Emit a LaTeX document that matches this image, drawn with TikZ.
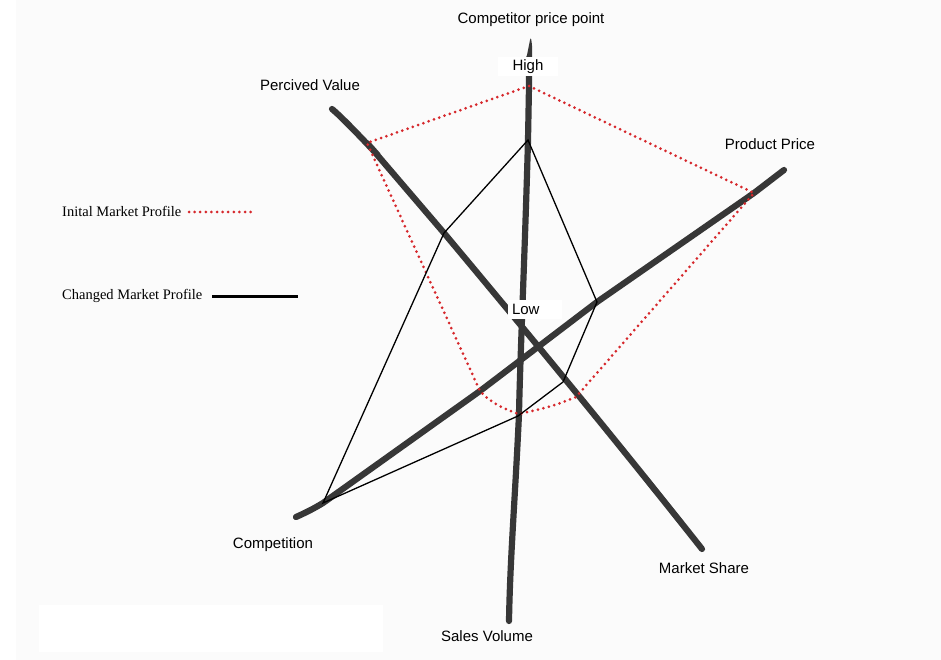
\documentclass[tikz,border=0pt]{standalone}
\usepackage{fontspec}
\setmainfont{Liberation Sans}
\newfontfamily\legendfont{Liberation Serif}
\definecolor{axisgray}{RGB}{55,55,55}
\definecolor{profilered}{RGB}{214,40,44}
\definecolor{paper}{RGB}{251,251,251}
\begin{document}
\begin{tikzpicture}[x=1pt,y=-1pt,
  axisline/.style={draw=axisgray, line width=6.2pt, line cap=round, line join=round},
  initial/.style={draw=profilered, line width=3pt, line cap=round,
    dash pattern=on 0pt off 5.6pt},
  changed/.style={draw=black, line width=1.3pt, line join=miter},
  axislabel/.style={font=\fontsize{15}{18}\selectfont, inner sep=1pt},
  levellabel/.style={font=\fontsize{15}{18}\selectfont, fill=white, inner sep=1pt,
    minimum height=19pt},
  legendlabel/.style={font=\legendfont\fontsize{14.5}{17}\selectfont, anchor=west, inner sep=0pt}
]
% page and backgrounds
\useasboundingbox (0,0) rectangle (941,660);
\fill[white] (0,0) rectangle (941,660);
\fill[paper] (16,0) rectangle (941,660);
\fill[white] (39,605) rectangle (383,652);

% axis end points and profile vertices
\coordinate (pvTop) at (332,109);
\coordinate (pvEnd) at (702,549);
\coordinate (coEnd) at (296,517);
\coordinate (ppEnd) at (784,170);
\coordinate (svTop) at (530,40);
\coordinate (svEnd) at (509,621);

\coordinate (iCP) at (529,86);
\coordinate (iPV) at (367,143);
\coordinate (iPP) at (754,193);
\coordinate (iMS) at (576,397);
\coordinate (iSV) at (519,414);
\coordinate (iCO) at (480,391);

\coordinate (cCP) at (528,140);
\coordinate (cPV) at (444,233);
\coordinate (cCO) at (323,503);
\coordinate (cSV) at (518,416);
\coordinate (cMS) at (563,382);
\coordinate (cPP) at (597,302);

% hand-drawn axes
\draw[axisline] (pvTop) .. controls (350,124) and (400,180) .. (iPV) -- (cPV)
  .. controls (500,300) and (600,420) .. (pvEnd);
\draw[axisline] (coEnd) .. controls (306,512.5) and (314,508.5) .. (cCO) -- (iCO) -- (cPP) -- (iPP) -- (ppEnd);
\draw[axisline] (529,58) -- (iCP) -- (cCP) .. controls (525,250) and (520,360) .. (iSV)
  .. controls (515,500) and (510,560) .. (svEnd);
\fill[axisgray] (526,60) -- (svTop) .. controls (531,36) and (531.5,40) .. (532.2,48) -- (532.2,60) -- cycle;

% initial market profile
\draw[initial] (iCP) -- (iPP) -- (iMS) .. controls (550,408) and (535,410) .. (iSV)
  .. controls (500,408) and (488,400) .. (iCO) -- (iPV) -- cycle;

% changed market profile
\draw[changed] (cCP) -- (cPV) -- (cCO) -- (cSV) -- (cMS) -- (cPP) -- cycle;

% axis labels
\node[axislabel] (lblCP) at (531,20) {Competitor price point};
\node[levellabel, minimum width=60pt] (lblHigh) at (528,67) {High};
\node[axislabel] (lblPV) at (310,85) {Percived Value};
\node[axislabel] (lblPP) at (770,144) {Product Price};
\node[levellabel, minimum width=54pt, text width=46pt, align=left] (lblLow) at (535,309) {Low};
\node[axislabel] (lblCO) at (273,545) {Competition};
\node[axislabel] (lblMS) at (704,568) {Market Share};
\node[axislabel] (lblSV) at (487,636) {Sales Volume};

% legend
\node[legendlabel] (legInit) at (62,211) {Inital Market Profile};
\coordinate (legInitA) at (189,212);
\coordinate (legInitB) at (251,212);
\draw[initial] (legInitA) -- (legInitB);
\node[legendlabel] (legChg) at (62,296) {Changed Market Profile};
\coordinate (legChgA) at (212,296);
\coordinate (legChgB) at (298,296);
\draw[black, line width=3pt] (legChgA) -- (legChgB);
\end{tikzpicture}
\end{document}
